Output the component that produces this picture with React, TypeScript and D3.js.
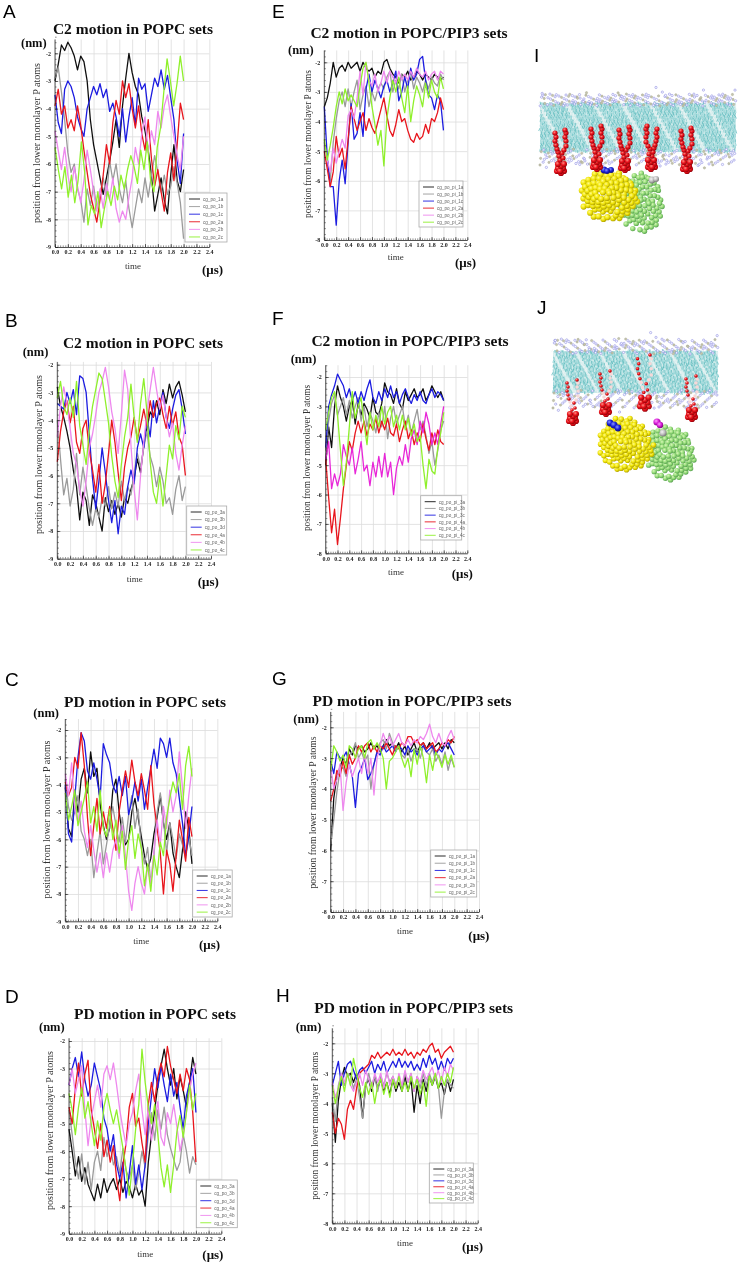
import { useEffect, useRef } from "react";
import * as d3 from "d3";

const seriesColors = ["#111111", "#9a9a9a", "#1c1ce0", "#e8141c", "#ee88ee", "#8ff02c"];

const labelsPo12 = ["cg_po_1a", "cg_po_1b", "cg_po_1c", "cg_po_2a", "cg_po_2b", "cg_po_2c"];
const labelsPo34 = ["cg_po_3a", "cg_po_3b", "cg_po_3d", "cg_po_4a", "cg_po_4b", "cg_po_4c"];
const labelsPi12 = ["cg_po_pi_1a", "cg_po_pi_1b", "cg_po_pi_1c", "cg_po_pi_2a", "cg_po_pi_2b", "cg_po_pi_2c"];
const labelsPi34 = ["cg_po_pi_3a", "cg_po_pi_3b", "cg_po_pi_3c", "cg_po_pi_4a", "cg_po_pi_4b", "cg_po_pi_4c"];

const xTickLabels = d3.range(0, 13).map((i) => i * 0.2);

// values, one sample every 0.05 us
const valuesA = [
  [-3.0,-2.4,-1.7,-1.9,-1.6,-1.8,-2.1,-2.6,-2.1,-2.3,-3.0,-4.4,-5.3,-5.9,-6.5,-7.1,-6.5,-5.9,-5.2,-4.4,-5.4,-3.9,-2.9,-2.0,-2.7,-3.2,-3.5,-4.3,-4.8,-5.5,-6.4,-7.7,-7.1,-6.5,-7.3,-7.8,-6.4,-5.3,-6.6,-7.0,-6.2],
  [-2.9,-2.5,-3.4,-4.4,-5.6,-6.3,-6.0,-6.9,-7.3,-8.1,-6.9,-7.5,-6.8,-7.6,-7.1,-6.5,-7.2,-5.9,-6.6,-6.0,-6.9,-7.4,-6.6,-7.6,-8.3,-7.6,-6.9,-7.4,-6.5,-7.2,-6.4,-5.7,-6.3,-7.0,-6.4,-7.1,-6.8,-6.1,-6.7,-7.4,-8.7],
  [-3.5,-4.5,-4.9,-3.3,-3.0,-3.2,-3.6,-4.3,-4.7,-5.0,-4.0,-3.6,-3.2,-3.5,-3.1,-3.6,-3.3,-4.1,-3.8,-4.3,-5.0,-4.0,-5.2,-4.3,-3.6,-4.6,-2.9,-3.3,-3.1,-4.1,-3.5,-2.9,-3.2,-2.6,-3.3,-2.8,-3.6,-4.4,-5.9,-6.7,-4.9],
  [-3.9,-3.3,-4.2,-3.9,-4.7,-4.4,-4.8,-3.9,-4.6,-5.5,-6.3,-7.1,-7.6,-8.1,-7.3,-6.4,-5.3,-6.0,-4.5,-3.7,-4.2,-3.0,-3.6,-3.1,-4.0,-4.7,-3.9,-4.9,-5.5,-4.4,-5.8,-6.8,-6.2,-7.0,-7.7,-6.3,-5.6,-6.6,-5.3,-3.8,-4.4],
  [-4.8,-5.5,-6.2,-5.4,-6.4,-7.0,-6.1,-6.8,-7.4,-6.6,-5.5,-6.2,-7.0,-7.7,-6.9,-7.6,-6.7,-7.3,-6.5,-7.6,-8.1,-7.7,-8.0,-7.2,-6.5,-5.4,-6.0,-4.9,-4.3,-5.6,-4.8,-5.3,-4.1,-4.7,-3.9,-3.5,-4.3,-5.0,-5.7,-6.2,-5.0],
  [-5.4,-6.2,-6.9,-6.1,-7.2,-6.4,-7.4,-6.6,-5.2,-6.3,-8.2,-7.5,-7.8,-7.0,-8.3,-7.6,-7.0,-7.5,-6.8,-7.3,-6.4,-6.9,-6.2,-5.7,-6.1,-6.7,-5.5,-6.2,-5.2,-6.6,-7.0,-5.4,-4.7,-3.4,-2.2,-3.0,-3.9,-3.1,-2.1,-3.0],
];
const valuesB = [
  [-2.8,-3.5,-3.9,-4.4,-5.0,-5.8,-6.4,-7.6,-6.6,-6.9,-7.8,-6.7,-7.0,-7.5,-8.0,-6.8,-7.3,-6.9,-7.4,-7.0,-7.5,-6.8,-7.0,-6.5,-6.1,-5.4,-5.9,-4.9,-4.3,-3.7,-3.9,-3.3,-3.8,-2.9,-3.4,-2.7,-3.2,-2.8,-2.6,-3.1,-3.7],
  [-4.0,-5.4,-6.7,-6.1,-7.1,-6.5,-5.2,-6.7,-5.7,-6.4,-7.2,-7.8,-7.2,-7.5,-6.8,-7.1,-6.4,-7.2,-6.6,-7.1,-6.2,-6.9,-6.4,-6.7,-5.9,-5.2,-5.7,-5.0,-4.4,-5.3,-5.7,-6.4,-5.7,-6.2,-7.0,-6.8,-7.4,-6.5,-6.0,-6.9,-6.4],
  [-3.4,-3.5,-3.6,-3.0,-3.4,-2.9,-3.8,-2.4,-2.5,-3.0,-4.5,-6.1,-7.2,-6.2,-5.0,-5.9,-6.9,-7.7,-6.9,-8.1,-7.1,-7.4,-6.4,-5.8,-6.3,-5.0,-4.5,-5.0,-3.9,-4.6,-3.3,-4.1,-3.5,-3.0,-3.9,-4.3,-3.6,-3.1,-2.9,-3.6,-4.5],
  [-5.5,-4.4,-3.7,-3.3,-4.1,-3.5,-4.8,-5.2,-4.3,-4.0,-5.1,-5.8,-6.6,-5.6,-7.0,-6.3,-5.2,-4.0,-4.8,-5.9,-6.9,-5.7,-5.0,-4.6,-3.9,-4.7,-4.2,-3.6,-4.2,-3.3,-3.9,-3.4,-3.2,-3.8,-4.3,-3.5,-4.2,-3.7,-4.6,-4.9,-6.0],
  [-4.6,-3.5,-2.8,-3.4,-4.3,-5.2,-5.6,-6.5,-7.1,-6.2,-5.0,-4.5,-3.8,-3.0,-2.6,-2.1,-2.8,-3.7,-4.3,-5.2,-3.8,-2.2,-2.9,-4.9,-6.5,-7.6,-6.0,-4.8,-3.7,-2.9,-2.1,-2.9,-3.6,-3.1,-3.9,-4.6,-4.1,-5.2,-5.8,-4.9,-4.2],
  [-3.2,-2.6,-3.5,-3.8,-3.2,-3.9,-2.6,-4.2,-4.9,-5.6,-4.4,-3.5,-2.9,-2.3,-2.5,-3.3,-4.1,-5.3,-6.2,-6.8,-5.6,-4.6,-3.9,-2.7,-3.9,-4.8,-3.4,-2.5,-3.7,-5.5,-6.6,-7.0,-6.0,-7.1,-6.0,-4.9,-5.4,-4.2,-4.7,-3.5,-3.9],
];
const valuesC = [
  [-4.1,-5.6,-5.9,-4.2,-5.0,-3.8,-3.4,-4.3,-2.8,-3.7,-3.4,-4.7,-5.5,-6.0,-5.6,-4.2,-3.8,-5.0,-5.8,-6.2,-6.0,-5.0,-4.5,-5.2,-5.9,-6.6,-7.1,-6.7,-5.8,-5.2,-4.4,-5.4,-6.0,-5.4,-6.5,-7.0,-7.4,-6.4,-5.0,-5.6,-6.9],
  [-3.8,-4.8,-5.3,-5.0,-4.4,-5.7,-6.0,-6.6,-6.0,-7.4,-6.5,-5.7,-6.9,-6.2,-5.5,-4.8,-5.5,-6.1,-5.2,-6.1,-5.1,-4.4,-5.6,-4.9,-6.3,-6.9,-6.3,-7.6,-6.6,-5.0,-4.3,-5.3,-6.5,-5.4,-6.0,-6.7,-5.8,-6.2,-6.7,-5.9,-6.6],
  [-4.0,-5.8,-6.1,-4.5,-3.0,-2.1,-2.4,-3.5,-3.8,-3.2,-3.8,-4.5,-2.5,-2.9,-3.2,-4.0,-4.3,-3.7,-4.4,-3.7,-5.1,-4.6,-3.9,-4.6,-3.8,-4.9,-4.1,-3.4,-2.7,-3.4,-2.3,-2.5,-3.0,-2.3,-3.2,-3.6,-4.5,-5.4,-6.6,-5.9,-4.8],
  [-3.9,-4.4,-4.1,-3.0,-3.4,-2.1,-3.3,-5.2,-6.6,-5.5,-4.5,-5.8,-5.0,-5.6,-4.8,-5.6,-6.4,-5.0,-4.2,-3.5,-4.1,-3.1,-3.9,-4.4,-3.6,-4.2,-4.9,-3.3,-4.7,-5.6,-6.5,-8.0,-6.4,-6.9,-7.9,-6.6,-5.3,-6.0,-6.8,-5.2,-5.9],
  [-3.6,-4.4,-3.2,-4.9,-5.4,-4.6,-5.7,-6.3,-5.5,-6.4,-7.2,-6.5,-7.4,-6.5,-7.2,-6.4,-6.0,-6.7,-5.5,-6.6,-7.9,-8.6,-7.6,-7.0,-7.6,-8.0,-7.0,-7.6,-6.4,-5.3,-6.2,-4.8,-5.6,-4.2,-5.0,-4.4,-2.8,-4.1,-5.6,-4.4,-3.4],
  [-4.3,-5.3,-4.8,-4.2,-5.5,-5.0,-4.5,-3.9,-5.4,-4.8,-5.7,-4.2,-5.6,-5.9,-4.9,-6.0,-5.3,-6.5,-5.7,-7.1,-6.0,-5.5,-6.7,-5.8,-6.3,-7.7,-6.9,-7.9,-6.6,-7.3,-6.1,-6.6,-5.2,-4.5,-3.9,-4.3,-3.6,-4.9,-3.3,-2.6,-3.7],
];
const valuesD = [
  [-5.2,-6.0,-6.9,-6.2,-7.1,-6.6,-7.2,-7.5,-7.8,-7.2,-7.7,-7.0,-7.5,-7.2,-7.0,-7.4,-7.0,-7.5,-7.1,-7.3,-7.7,-7.2,-7.6,-7.4,-8.0,-6.4,-5.4,-4.5,-3.6,-2.9,-2.3,-3.0,-3.6,-3.0,-4.1,-3.3,-3.8,-4.4,-3.5,-2.6,-3.2],
  [-4.5,-5.4,-6.4,-7.0,-6.1,-7.2,-6.4,-7.4,-6.4,-6.0,-6.7,-5.5,-6.2,-5.8,-6.5,-6.2,-6.8,-5.9,-6.7,-7.0,-6.5,-7.4,-6.8,-6.0,-6.6,-5.4,-4.6,-5.6,-4.5,-5.2,-4.4,-5.4,-5.9,-6.3,-6.7,-6.4,-5.4,-6.0,-6.8,-6.2,-6.5],
  [-3.6,-3.0,-2.6,-3.3,-2.4,-3.4,-4.0,-3.6,-2.8,-3.3,-3.8,-4.8,-5.2,-6.0,-5.4,-6.5,-7.0,-6.4,-7.7,-6.8,-5.8,-7.2,-6.5,-7.4,-6.5,-5.0,-4.0,-3.0,-3.7,-2.9,-3.6,-4.2,-3.2,-4.0,-3.5,-4.4,-5.2,-4.0,-3.5,-3.0,-4.6],
  [-4.4,-5.0,-3.7,-2.8,-4.0,-3.2,-2.7,-4.5,-5.2,-5.9,-5.0,-6.2,-5.6,-6.4,-5.8,-7.0,-7.8,-6.5,-5.7,-4.4,-3.9,-5.1,-4.8,-5.7,-6.4,-4.3,-3.5,-4.2,-3.3,-2.8,-3.3,-2.2,-2.9,-3.4,-3.9,-3.2,-3.8,-3.0,-3.4,-4.6,-6.4],
  [-3.6,-3.0,-3.9,-3.4,-2.9,-4.5,-5.8,-4.8,-4.2,-3.6,-4.4,-3.2,-2.9,-3.4,-2.8,-3.6,-4.5,-5.2,-5.8,-5.0,-4.6,-3.8,-3.2,-4.5,-5.4,-4.4,-5.6,-4.9,-4.2,-5.5,-5.8,-4.6,-5.0,-4.3,-5.1,-6.0,-5.4,-4.6,-3.8,-3.2,-2.8],
  [-3.9,-4.5,-5.4,-4.4,-3.7,-4.8,-4.2,-5.0,-5.8,-4.9,-5.6,-4.4,-3.9,-4.5,-5.0,-4.5,-5.2,-5.9,-6.7,-7.6,-6.5,-5.2,-4.3,-2.3,-3.5,-4.4,-5.0,-4.3,-5.4,-6.6,-7.3,-6.5,-7.5,-6.5,-5.3,-4.7,-5.5,-4.6,-3.6,-4.5,-3.9],
];
const valuesE = [
  [-3.5,-3.2,-2.7,-2.0,-2.5,-2.2,-2.1,-2.3,-2.0,-2.2,-2.1,-2.0,-2.3,-2.0,-2.2,-2.3,-2.2,-2.5,-2.3,-2.4,-2.0,-1.9,-2.2,-2.4,-2.5,-2.7,-2.4,-2.5,-2.3,-2.6,-2.5,-2.3,-2.4,-2.6,-2.4,-2.5,-2.6,-2.4,-2.5,-2.6,-2.5],
  [-4.7,-5.3,-6.0,-4.7,-3.9,-3.3,-3.0,-3.5,-2.9,-3.5,-3.0,-2.6,-3.6,-3.1,-2.8,-3.5,-3.0,-3.3,-2.9,-2.7,-2.9,-2.5,-2.3,-3.0,-2.6,-2.9,-2.4,-3.0,-2.6,-2.3,-2.9,-2.5,-2.7,-3.0,-2.6,-2.9,-2.5,-2.7,-2.8,-2.4,-2.6],
  [-3.5,-5.2,-6.2,-6.2,-7.5,-6.0,-5.3,-6.1,-4.7,-3.4,-4.6,-4.4,-3.7,-4.5,-2.9,-2.4,-3.0,-2.6,-2.9,-3.2,-2.8,-2.6,-3.0,-2.7,-2.3,-3.3,-3.0,-2.5,-2.9,-2.2,-2.6,-2.4,-1.9,-1.8,-2.6,-3.1,-3.2,-3.6,-3.1,-3.3,-4.3],
  [-5.0,-5.6,-6.2,-5.7,-4.5,-5.2,-4.9,-5.6,-4.6,-3.5,-3.9,-4.3,-4.0,-3.7,-4.3,-3.9,-4.2,-4.4,-4.0,-3.6,-3.2,-3.8,-4.3,-4.5,-4.1,-3.6,-4.0,-3.9,-4.3,-4.6,-4.7,-4.4,-4.6,-4.5,-4.1,-4.4,-3.9,-4.0,-3.7,-3.2,-3.6],
  [-4.8,-5.3,-5.7,-4.9,-5.4,-5.0,-4.6,-4.9,-3.8,-3.6,-3.9,-3.2,-2.3,-3.1,-2.0,-2.6,-2.8,-2.4,-3.0,-2.7,-2.3,-2.7,-2.3,-2.5,-2.7,-2.3,-2.6,-2.4,-2.6,-2.3,-2.5,-2.2,-2.4,-2.5,-2.3,-2.6,-2.4,-2.3,-2.6,-2.3,-2.4],
  [-4.6,-5.3,-4.8,-4.2,-3.5,-3.0,-3.4,-2.9,-3.3,-3.1,-3.3,-3.5,-2.8,-2.2,-2.0,-2.7,-3.5,-4.1,-4.8,-4.3,-5.5,-3.9,-3.2,-2.6,-3.0,-2.5,-3.2,-3.7,-2.8,-4.0,-3.3,-2.8,-3.1,-3.5,-2.7,-3.2,-2.6,-3.0,-3.2,-2.5,-2.9],
];
const valuesF = [
  [-5.0,-3.7,-4.4,-3.0,-2.3,-2.7,-3.0,-3.5,-3.0,-2.8,-3.6,-2.9,-3.3,-2.9,-3.1,-3.4,-2.7,-3.2,-3.3,-2.9,-2.2,-2.5,-2.6,-2.9,-2.4,-2.9,-3.1,-2.5,-2.8,-2.6,-2.4,-2.7,-2.6,-2.4,-2.8,-2.6,-2.3,-2.5,-2.7,-2.5,-2.8],
  [-4.5,-3.5,-2.9,-2.6,-3.3,-3.0,-2.7,-3.3,-2.8,-3.4,-3.0,-2.7,-3.5,-3.0,-3.7,-3.2,-3.5,-3.9,-3.2,-3.7,-3.0,-4.1,-3.4,-3.0,-3.6,-3.3,-3.0,-3.7,-3.3,-3.9,-3.5,-3.1,-3.8,-3.5,-4.0,-4.6,-4.2,-5.0,-4.5,-3.8,-3.5],
  [-4.4,-3.0,-2.6,-2.3,-1.9,-2.1,-2.3,-2.7,-2.4,-2.8,-2.5,-2.9,-2.5,-2.8,-2.4,-2.1,-2.7,-2.9,-2.5,-2.8,-2.4,-2.7,-2.3,-2.7,-2.5,-2.9,-2.6,-2.4,-2.7,-2.9,-2.6,-2.8,-2.5,-2.8,-2.9,-2.6,-2.4,-2.7,-2.5,-2.6,-2.8],
  [-4.8,-6.1,-7.3,-6.5,-7.7,-6.8,-5.8,-5.0,-4.2,-4.5,-3.9,-3.5,-3.9,-3.5,-4.0,-3.6,-3.8,-3.4,-3.9,-3.5,-3.8,-3.4,-3.9,-4.0,-3.6,-4.2,-3.8,-3.5,-4.1,-3.8,-4.3,-3.9,-4.2,-3.6,-4.1,-4.5,-3.9,-4.3,-3.8,-4.2,-4.3],
  [-4.8,-4.2,-5.8,-5.3,-5.7,-5.3,-4.3,-4.7,-5.0,-4.4,-5.3,-4.8,-4.2,-5.2,-5.0,-5.7,-4.9,-5.4,-4.7,-5.4,-4.6,-5.4,-4.9,-6.0,-5.1,-4.7,-5.0,-4.3,-4.9,-4.1,-3.8,-4.3,-3.5,-3.9,-3.2,-3.6,-4.3,-3.9,-4.3,-3.6,-3.0],
  [-3.8,-3.2,-2.7,-2.5,-3.3,-4.5,-5.7,-4.9,-3.7,-2.5,-3.4,-3.0,-2.7,-3.6,-4.3,-3.2,-3.8,-3.3,-3.7,-3.0,-3.6,-3.2,-3.0,-3.7,-3.3,-3.8,-3.3,-3.8,-3.4,-4.0,-3.6,-4.2,-4.0,-5.0,-5.8,-4.8,-5.2,-5.3,-4.4,-3.9,-3.2],
];
const valuesG = [
  [-6.0,-4.3,-3.6,-3.3,-3.0,-3.2,-2.7,-2.9,-2.6,-2.7,-2.6,-2.8,-2.7,-2.5,-2.7,-2.6,-2.8,-2.6,-2.4,-2.6,-2.5,-2.7,-2.5,-2.8,-2.6,-2.9,-2.7,-2.5,-2.8,-2.6,-2.5,-2.7,-2.5,-2.7,-2.6,-2.5,-2.7,-2.5,-2.7,-2.4,-2.5],
  [-5.8,-5.0,-4.1,-3.4,-3.3,-3.6,-2.9,-2.8,-2.5,-3.0,-2.8,-3.1,-2.9,-4.0,-3.2,-2.8,-2.5,-2.4,-2.7,-2.2,-2.5,-2.7,-2.6,-2.9,-3.0,-2.7,-3.1,-2.8,-2.7,-3.0,-2.6,-2.8,-2.9,-2.7,-3.1,-2.9,-3.2,-2.8,-3.4,-3.0,-3.3],
  [-3.1,-3.5,-2.8,-3.0,-3.0,-2.8,-3.2,-3.6,-4.6,-3.5,-3.3,-3.0,-3.7,-3.5,-3.2,-2.8,-2.9,-2.6,-2.8,-2.7,-2.6,-2.8,-2.6,-2.7,-2.9,-2.6,-2.8,-2.7,-2.9,-2.7,-2.6,-2.8,-2.7,-2.6,-2.9,-2.7,-2.8,-2.6,-2.5,-2.7,-2.9],
  [-4.4,-4.0,-3.4,-3.6,-3.1,-3.5,-2.9,-3.2,-3.0,-2.6,-2.8,-2.6,-2.5,-2.8,-2.6,-2.8,-2.6,-2.7,-2.5,-2.7,-2.9,-2.6,-2.7,-2.5,-2.6,-2.3,-2.3,-2.5,-2.4,-2.6,-2.5,-2.7,-2.6,-2.5,-2.8,-2.7,-2.5,-2.6,-2.4,-2.5,-2.3],
  [-3.3,-4.0,-3.7,-3.2,-4.7,-3.8,-3.2,-3.6,-3.3,-3.0,-3.5,-2.9,-3.5,-3.0,-4.2,-3.0,-2.6,-2.2,-2.5,-2.3,-2.6,-2.4,-2.2,-2.5,-2.6,-2.4,-2.6,-2.4,-2.5,-2.3,-2.4,-2.2,-1.9,-2.3,-2.5,-2.2,-2.5,-2.6,-2.3,-2.1,-2.4],
  [-3.4,-2.6,-2.8,-3.1,-2.9,-3.3,-2.6,-2.7,-3.0,-2.7,-2.6,-3.0,-2.5,-2.4,-2.7,-2.5,-2.7,-3.0,-4.0,-3.1,-3.0,-2.8,-2.6,-3.0,-3.3,-3.0,-3.6,-2.7,-3.2,-2.6,-3.0,-3.8,-2.9,-3.4,-2.8,-3.0,-3.3,-2.9,-3.2,-2.9,-3.3],
];
const valuesH = [
  [-4.0,-5.3,-3.9,-3.2,-2.8,-3.1,-3.0,-3.3,-3.0,-3.4,-4.5,-3.4,-3.2,-3.6,-3.1,-3.5,-3.2,-3.6,-3.3,-3.7,-3.2,-3.6,-3.3,-3.6,-3.1,-3.6,-3.2,-4.3,-3.4,-4.0,-3.2,-3.6,-3.1,-3.4,-3.1,-3.5,-3.3,-3.7,-3.2,-3.6,-3.2],
  [-3.8,-4.6,-3.4,-3.0,-3.4,-3.0,-3.1,-3.5,-3.2,-3.8,-4.5,-3.5,-3.0,-3.4,-3.1,-3.6,-3.1,-3.4,-3.0,-3.3,-3.1,-3.4,-3.1,-3.5,-3.0,-3.3,-3.0,-3.6,-3.1,-3.5,-3.0,-3.4,-3.0,-3.3,-3.0,-3.4,-4.5,-3.6,-3.2,-3.4,-3.5],
  [-3.4,-3.0,-2.6,-3.4,-3.0,-2.7,-2.6,-2.9,-3.2,-2.9,-2.8,-3.0,-2.8,-2.6,-3.0,-2.7,-2.9,-2.6,-3.0,-2.8,-2.6,-2.8,-2.5,-2.8,-2.6,-2.8,-2.6,-2.9,-2.7,-2.9,-2.5,-2.8,-2.4,-2.7,-2.5,-2.9,-2.6,-2.9,-2.5,-2.7,-2.5],
  [-4.3,-5.0,-4.5,-4.7,-5.2,-4.2,-3.9,-4.2,-3.5,-3.0,-2.9,-2.8,-2.7,-2.4,-2.5,-2.3,-2.5,-2.4,-2.3,-2.4,-2.2,-2.4,-2.3,-2.4,-2.2,-2.4,-2.3,-2.5,-2.3,-2.4,-2.2,-2.3,-2.1,-2.0,-2.3,-2.2,-2.5,-2.3,-2.2,-2.1,-2.3],
  [-3.3,-3.8,-3.5,-3.0,-3.3,-3.0,-3.4,-3.6,-3.3,-3.0,-3.4,-2.9,-3.2,-3.5,-3.0,-3.3,-3.0,-3.5,-2.9,-3.4,-3.1,-3.5,-3.0,-3.4,-2.9,-3.3,-3.0,-3.6,-3.1,-3.3,-2.9,-3.2,-3.0,-2.8,-3.2,-2.9,-3.3,-2.8,-3.1,-2.7,-2.9],
  [-3.4,-4.0,-3.5,-3.1,-3.6,-3.0,-3.4,-2.5,-3.0,-3.5,-3.8,-3.3,-3.7,-3.3,-4.0,-3.4,-3.2,-3.7,-3.3,-3.8,-3.2,-3.5,-3.1,-3.6,-3.3,-3.6,-3.1,-3.5,-3.2,-3.7,-3.3,-4.1,-3.1,-3.4,-3.0,-3.5,-3.1,-3.4,-3.0,-3.3,-2.8],
];

const panels = [
  { letter: "A", lx: 3, ly: 18, title: "C2 motion in POPC sets", values: valuesA, labels: labelsPo12, bottom: -9, axisTop: -1.5, x0: 55, x24: 209.3, y2: 53.3, yb: 247, tx: 133, ty: 34, nx: 21, ny: 47, ux: 202, uy: 274, tmx: 133, tmy: 269, ylx: 37, yly: 143, yll: 160, lgx: 185, lgy: 193, lgw: 42, lgh: 49 },
  { letter: "B", lx: 5, ly: 327, title: "C2 motion in POPC sets", values: valuesB, labels: labelsPo34, bottom: -9, axisTop: -1.9, x0: 57.3, x24: 211, y2: 364.7, yb: 558.7, tx: 143, ty: 347.7, nx: 22.7, ny: 355.7, ux: 197.7, uy: 586, tmx: 134.7, tmy: 581.7, ylx: 38.7, yly: 454.5, yll: 159, lgx: 186.7, lgy: 506, lgw: 40, lgh: 49 },
  { letter: "C", lx: 5, ly: 686, title: "PD motion in POPC sets", values: valuesC, labels: labelsPo12, bottom: -9, axisTop: -1.6, x0: 65.3, x24: 217.3, y2: 730, yb: 921.3, tx: 145, ty: 706.7, nx: 33.3, ny: 716.7, ux: 199, uy: 949.3, tmx: 141.3, tmy: 944.3, ylx: 46.7, yly: 819.5, yll: 158, lgx: 192.7, lgy: 870, lgw: 39.5, lgh: 47 },
  { letter: "D", lx: 5, ly: 1003, title: "PD motion in POPC sets", values: valuesD, labels: labelsPo34, bottom: -9, axisTop: -1.9, x0: 69, x24: 221.3, y2: 1041, yb: 1233.7, tx: 155, ty: 1019, nx: 39, ny: 1031, ux: 202.3, uy: 1259.3, tmx: 145.3, tmy: 1256.7, ylx: 50, yly: 1130.5, yll: 159, lgx: 196.3, lgy: 1180, lgw: 41, lgh: 47.7 },
  { letter: "E", lx: 272, ly: 18, title: "C2 motion in POPC/PIP3 sets", values: valuesE, labels: labelsPi12, bottom: -8, axisTop: -1.6, x0: 324.3, x24: 467.3, y2: 62.3, yb: 240, tx: 409, ty: 38, nx: 288, ny: 54, ux: 455, uy: 267, tmx: 395.7, tmy: 260, ylx: 308, yly: 144, yll: 148, lgx: 419, lgy: 181, lgw: 44, lgh: 46 },
  { letter: "F", lx: 272, ly: 325, title: "C2 motion in POPC/PIP3 sets", values: valuesF, labels: labelsPi34, bottom: -8, axisTop: -1.6, x0: 325.7, x24: 467.3, y2: 377, yb: 553.3, tx: 410, ty: 345.7, nx: 290.7, ny: 363.3, ux: 451.7, uy: 577.7, tmx: 396, tmy: 575, ylx: 307.3, yly: 458, yll: 146, lgx: 420.7, lgy: 495.7, lgw: 41, lgh: 44.3 },
  { letter: "G", lx: 272, ly: 685, title: "PD motion in POPC/PIP3 sets", values: valuesG, labels: labelsPi12, bottom: -8, axisTop: -1.5, x0: 330.7, x24: 479, y2: 727.3, yb: 912, tx: 412, ty: 705.7, nx: 293.3, ny: 723.3, ux: 468.3, uy: 940, tmx: 405, tmy: 934.3, ylx: 312.7, yly: 812.5, yll: 152, lgx: 430.7, lgy: 850, lgw: 46, lgh: 47 },
  { letter: "H", lx: 276, ly: 1002, title: "PD motion in POPC/PIP3 sets", values: valuesH, labels: labelsPi34, bottom: -8, axisTop: -1.5, x0: 332.3, x24: 477.7, y2: 1043.3, yb: 1223.3, tx: 413.7, ty: 1013.3, nx: 295.7, ny: 1031, ux: 462, uy: 1250.7, tmx: 405, tmy: 1245.7, ylx: 315, yly: 1125.8, yll: 148, lgx: 429.3, lgy: 1163, lgw: 44, lgh: 40 },
];

// the two molecular renderings on the right
const scenes = [
  {
    letter: "I", lx: 534, ly: 62, mx: 540, mw: 196, top: 93, coreTop: 103, coreBottom: 152, bottom: 166,
    yellow: { cx: 609, cy: 195, rx: 29, ry: 25, n: 105, r: 3.1 },
    green: { cx: 641, cy: 202, rx: 22, ry: 30, n: 95, r: 2.7 },
    spots: [{ cx: 604, cy: 170, r: 3.4, c: "blue" }, { cx: 611, cy: 170, r: 3, c: "blue" }, { cx: 607, cy: 171, r: 3, c: "blue" }, { cx: 652, cy: 180, r: 3.4, c: "grey" }, { cx: 656, cy: 179, r: 3, c: "grey" }],
    lipids: [{ x: 561, y: 170, s: 1 }, { x: 597, y: 166, s: 1 }, { x: 625, y: 167, s: 1 }, { x: 651, y: 166, s: -1 }, { x: 687, y: 168, s: 1 }],
  },
  {
    letter: "J", lx: 537, ly: 314, mx: 553, mw: 165, top: 338, coreTop: 351, coreBottom: 393, bottom: 409,
    yellow: { cx: 626, cy: 444, rx: 27, ry: 27, n: 120, r: 2.8 },
    green: { cx: 670, cy: 453, rx: 25, ry: 27, n: 110, r: 2.7 },
    spots: [{ cx: 610, cy: 423, r: 3.4, c: "blue" }, { cx: 614, cy: 425, r: 3.6, c: "blue" }, { cx: 618, cy: 428, r: 3.4, c: "blue" }, { cx: 657, cy: 422, r: 3.6, c: "magenta" }, { cx: 660, cy: 425, r: 3.2, c: "magenta" }, { cx: 663, cy: 433, r: 3.6, c: "grey" }],
    lipids: [{ x: 573, y: 420, s: 1 }, { x: 606, y: 411, s: 1 }, { x: 645, y: 405, s: 1.25 }, { x: 692, y: 416, s: 1 }],
  },
];

// bead offsets of one PIP3 lipid, seen from its head group upward
const lipidBeads = [
  [-4, 1], [3, 1], [0, 3], [-3, -2], [2, -2], [-1, 1], [0, -4], [-3, -6], [3, -6], [-1, -10], [2, -12], [-2, -14], [1, -17], [-3, -18],
  [-4, -21], [3, -20], [-5, -25], [5, -24], [-6, -29], [5, -29], [-5, -33], [4, -33], [-6, -37], [5, -37], [4, -40],
];

const sphereColors: Record<string, string[]> = {
  yellow: ["#fffb8a", "#f2e60a", "#a89a00"],
  green: ["#d8f7b8", "#96dc7a", "#4f9a48"],
  red: ["#ff8a80", "#e8101a", "#8a0008"],
  blue: ["#8a96ff", "#1c22d8", "#0a0a70"],
  grey: ["#f4f4f4", "#c0c0c0", "#6c6c6c"],
  magenta: ["#ffa0ff", "#d81cd8", "#700070"],
};

const frac = (v: number) => v - Math.floor(v);

function drawScene(root: d3.Selection<SVGGElement, unknown, null, undefined>, sc: (typeof scenes)[number]) {
  const g = root.append("g");
  const band = sc.coreBottom - sc.coreTop;

  g.append("rect").attr("x", sc.mx).attr("y", sc.coreTop).attr("width", sc.mw).attr("height", band).attr("fill", "#cdeaea");

  // lipid tails
  const tails = d3.range(Math.round(sc.mw * band * 0.24));
  g.append("g").selectAll("line").data(tails).join("line")
    .attr("x1", (i) => sc.mx + frac(i * 0.618034) * sc.mw)
    .attr("y1", (i) => sc.coreTop - 2 + frac(i * 0.754878) * (band + 1))
    .attr("x2", (i) => sc.mx + frac(i * 0.618034) * sc.mw + (frac(i * 0.569840) - 0.5) * 3)
    .attr("y2", (i) => sc.coreTop - 2 + frac(i * 0.754878) * (band + 1) + 3)
    .attr("stroke", (i) => (i % 7 === 0 ? "#f4f6f6" : i % 2 ? "#4fb4b8" : "#86d0d2"))
    .attr("stroke-width", 0.7);

  // head groups on both leaflets, plus the loose ones sitting off the surface
  const heads = d3.range(Math.round(sc.mw * 2.1));
  g.append("g").selectAll("circle").data(heads).join("circle")
    .attr("cx", (i) => sc.mx + frac(i * 0.381966) * sc.mw)
    .attr("cy", (i) => {
      const v = frac(i * 0.7320508);
      if (i % 2) return sc.top + 1 + v * (sc.coreTop - sc.top + 2) - (i % 11 === 1 ? 10 * frac(i * 0.13) : 0);
      return sc.bottom - 1 - v * (sc.bottom - sc.coreBottom + 2) + (i % 11 === 0 ? 8 * frac(i * 0.17) : 0);
    })
    .attr("r", 1.15)
    .attr("fill", (i) => (i % 3 === 0 ? "#c4c4ae" : "#f6f6ff"))
    .attr("stroke", (i) => (i % 3 === 0 ? "#a8a890" : "#8080dc"))
    .attr("stroke-width", 0.5);

  const blob = (b: typeof sc.yellow, color: string) => {
    const beads = d3.range(b.n).reverse();
    g.append("g").selectAll("circle").data(beads).join("circle")
      .attr("cx", (i) => b.cx + Math.sqrt((i + 0.5) / b.n) * b.rx * Math.cos(i * 2.39996) + (frac(i * 0.618034) - 0.5) * 3.5)
      .attr("cy", (i) => b.cy + Math.sqrt((i + 0.5) / b.n) * b.ry * Math.sin(i * 2.39996) + (frac(i * 0.754878) - 0.5) * 3.5)
      .attr("r", b.r)
      .attr("fill", `url(#sphere-${color})`);
  };
  blob(sc.green, "green");
  blob(sc.yellow, "yellow");

  g.append("g").selectAll("circle").data(sc.spots).join("circle")
    .attr("cx", (d) => d.cx).attr("cy", (d) => d.cy).attr("r", (d) => d.r)
    .attr("fill", (d) => `url(#sphere-${d.c})`);

  sc.lipids.forEach((l) => {
    const s = Math.abs(l.s);
    const flip = Math.sign(l.s);
    const isJ = sc.letter === "J";
    g.append("g").selectAll("circle").data(lipidBeads).join("circle")
      .attr("cx", (d) => l.x + d[0] * s * flip)
      .attr("cy", (d) => l.y + d[1] * s)
      .attr("r", (_, i) => (i < 9 ? 3.1 : isJ ? 1.8 : 2.6))
      .attr("fill", (_, i) => (isJ && i > 10 && i % 2 ? "#f6d8d8" : "url(#sphere-red)"));
  });

  root.append("text")
    .attr("x", sc.lx).attr("y", sc.ly)
    .style("font-family", "'Liberation Sans', sans-serif").style("font-size", "19px").attr("fill", "#000")
    .text(sc.letter);
}

function drawPanel(root: d3.Selection<SVGGElement, unknown, null, undefined>, p: (typeof panels)[number]) {
  const g = root.append("g");
  const x = d3.scaleLinear().domain([0, 2.4]).range([p.x0, p.x24]);
  const y = d3.scaleLinear().domain([p.bottom, -2]).range([p.yb, p.y2]);
  const yMajor = d3.range(p.bottom, -1.5);
  const yMinor = d3.range(0, Math.round((p.axisTop - p.bottom) / 0.2) + 1).map((i) => p.bottom + i * 0.2);
  const xMinor = d3.range(0, 61).map((i) => i * 0.04);

  const clean = (sel: d3.Selection<SVGGElement, unknown, null, undefined>) => {
    sel.select(".domain").remove();
    sel.selectAll("text").remove();
    return sel;
  };

  // grid
  const gridX = g.append("g").attr("transform", `translate(0,${p.yb})`)
    .call(d3.axisBottom(x).tickValues(xTickLabels).tickSizeInner(-(p.yb - y(p.axisTop))));
  clean(gridX).selectAll("line").attr("stroke", "#dcdcdc").attr("stroke-width", 0.8);
  const gridY = g.append("g").attr("transform", `translate(${p.x0},0)`)
    .call(d3.axisLeft(y).tickValues(yMajor).tickSizeInner(-(p.x24 - p.x0)));
  clean(gridY).selectAll("line").attr("stroke", "#dcdcdc").attr("stroke-width", 0.8);

  // series
  const line = d3.line<number>()
    .x((_, i, arr) => x((i * 2) / (arr.length - 1)))
    .y((d) => y(d))
    .curve(d3.curveLinear);
  g.append("g").selectAll("path").data(p.values).join("path")
    .attr("d", (d) => line(d))
    .attr("fill", "none")
    .attr("stroke", (_, i) => (p.letter === "F" && i === 4 ? "#e828d8" : seriesColors[i]))
    .attr("stroke-width", 1.3)
    .attr("stroke-linejoin", "round");

  // axes
  const axisX = g.append("g").attr("transform", `translate(0,${p.yb})`)
    .call(d3.axisBottom(x).tickValues(xTickLabels).tickSizeInner(-3).tickSizeOuter(0).tickPadding(3).tickFormat((d) => (+d).toFixed(1)));
  axisX.select(".domain").attr("stroke", "#111").attr("stroke-width", 0.7);
  axisX.selectAll("line").attr("stroke", "#111").attr("stroke-width", 0.6);
  axisX.selectAll("text")
    .style("font-family", "'Liberation Serif', serif").style("font-size", "6px").style("font-weight", "bold").attr("fill", "#222");

  const minorX = g.append("g").attr("transform", `translate(0,${p.yb})`)
    .call(d3.axisBottom(x).tickValues(xMinor).tickSizeInner(-1.6).tickSizeOuter(0));
  clean(minorX).selectAll("line").attr("stroke", "#222").attr("stroke-width", 0.5);

  const axisY = g.append("g").attr("transform", `translate(${p.x0},0)`)
    .call(d3.axisLeft(y).tickValues(yMajor).tickSizeInner(-3).tickSizeOuter(0).tickPadding(4).tickFormat((d) => String(d)));
  axisY.select(".domain").remove();
  axisY.selectAll("line").attr("stroke", "#111").attr("stroke-width", 0.6);
  axisY.selectAll("text")
    .style("font-family", "'Liberation Serif', serif").style("font-size", "6px").style("font-weight", "bold").attr("fill", "#222");

  const minorY = g.append("g").attr("transform", `translate(${p.x0},0)`)
    .call(d3.axisLeft(y).tickValues(yMinor).tickSizeInner(-1.6).tickSizeOuter(0));
  clean(minorY).selectAll("line").attr("stroke", "#222").attr("stroke-width", 0.5);

  g.append("line")
    .attr("x1", p.x0).attr("x2", p.x0).attr("y1", y(p.axisTop)).attr("y2", p.yb)
    .attr("stroke", "#111").attr("stroke-width", 0.7);

  // legend
  const lg = g.append("g").attr("transform", `translate(${p.lgx},${p.lgy})`);
  lg.append("rect").attr("width", p.lgw).attr("height", p.lgh).attr("fill", "#fff").attr("stroke", "#aaa").attr("stroke-width", 0.8);
  const step = (p.lgh - 8) / 5.4;
  const row = lg.selectAll("g").data(p.labels).join("g")
    .attr("transform", (_, i) => `translate(0,${6 + i * step})`);
  row.append("line")
    .attr("x1", 4).attr("x2", 15).attr("y1", 0).attr("y2", 0)
    .attr("stroke", (_, i) => seriesColors[i]).attr("stroke-width", 0.9);
  row.append("text")
    .attr("x", 18).attr("y", 1.8)
    .style("font-family", "'Liberation Sans', sans-serif").style("font-size", "4.6px").attr("fill", "#666")
    .text((d) => d);

  // text
  const serif = "'Liberation Serif', serif";
  root.append("text").attr("x", p.tx).attr("y", p.ty).attr("text-anchor", "middle")
    .style("font-family", serif).style("font-size", "15.5px").style("font-weight", "bold").attr("fill", "#111").text(p.title);
  root.append("text").attr("x", p.nx).attr("y", p.ny)
    .style("font-family", serif).style("font-size", "12.5px").style("font-weight", "bold").attr("fill", "#111").text("(nm)");
  root.append("text").attr("x", p.ux).attr("y", p.uy)
    .style("font-family", serif).style("font-size", "13px").style("font-weight", "bold").attr("fill", "#111").text("(\u03bcs)");
  root.append("text").attr("x", p.tmx).attr("y", p.tmy).attr("text-anchor", "middle")
    .style("font-family", serif).style("font-size", "9px").attr("fill", "#333").text("time");
  root.append("text")
    .attr("transform", `translate(${p.ylx + 3},${p.yly}) rotate(-90)`)
    .attr("text-anchor", "middle")
    .attr("textLength", p.yll).attr("lengthAdjust", "spacingAndGlyphs")
    .style("font-family", serif).style("font-size", "10px").attr("fill", "#333")
    .text("position from lower monolayer P atoms");
  root.append("text").attr("x", p.lx).attr("y", p.ly)
    .style("font-family", "'Liberation Sans', sans-serif").style("font-size", "19px").attr("fill", "#000")
    .text(p.letter);
}

export default function App() {
  const svgRef = useRef<SVGSVGElement | null>(null);

  useEffect(() => {
    const svg = d3.select(svgRef.current);
    svg.selectAll("*").remove();

    const defs = svg.append("defs");
    Object.entries(sphereColors).forEach(([name, stops]) => {
      const grad = defs.append("radialGradient").attr("id", `sphere-${name}`).attr("cx", "38%").attr("cy", "35%").attr("r", "70%");
      grad.append("stop").attr("offset", "0%").attr("stop-color", stops[0]);
      grad.append("stop").attr("offset", "50%").attr("stop-color", stops[1]);
      grad.append("stop").attr("offset", "100%").attr("stop-color", stops[2]);
    });
    defs.append("filter").attr("id", "soft").attr("x", "0").attr("y", "0").attr("width", "100%").attr("height", "100%")
      .append("feGaussianBlur").attr("stdDeviation", 0.3);

    const root = svg.append("g").attr("filter", "url(#soft)") as unknown as d3.Selection<SVGGElement, unknown, null, undefined>;
    root.append("rect").attr("width", 741).attr("height", 1264).attr("fill", "#fff");
    panels.forEach((p) => drawPanel(root, p));
    scenes.forEach((s) => drawScene(root, s));
  }, []);

  return (
    <svg
      ref={svgRef}
      width={741}
      height={1264}
      style={{ position: "absolute", left: 0, top: 0, display: "block" }}
    />
  );
}
